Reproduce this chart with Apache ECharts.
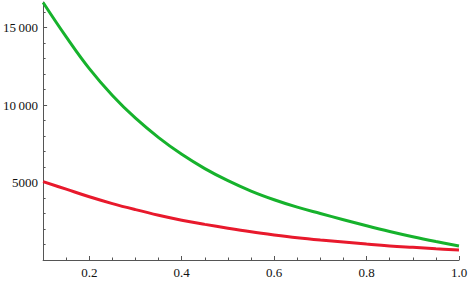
<!DOCTYPE html>
<html><head><meta charset="utf-8">
<script src="https://cdn.jsdelivr.net/npm/echarts@6/dist/echarts.min.js"></script>
<style>html,body{margin:0;padding:0;background:#fff}#c{width:474px;height:284px}</style>
</head><body><div id="c"></div>
<script>
const xValues = [0.1,0.15,0.2,0.25,0.3,0.35,0.4,0.45,0.5,0.55,0.6,0.65,0.7,0.75,0.8,0.85,0.9,0.95,1.0];
const greenValues = [16620,14400,12350,10620,9150,7900,6820,5900,5120,4450,3890,3410,3000,2600,2210,1840,1500,1190,900];
const redValues = [5060,4570,4080,3640,3250,2890,2570,2300,2050,1820,1620,1440,1290,1160,1030,910,815,725,646];
const xTickLabels = [0.2,0.4,0.6,0.8,1.0];
const xMinorTicks = [0.15,0.25,0.3,0.35,0.45,0.5,0.55,0.65,0.7,0.75,0.85,0.9,0.95];
const yTickLabels = [5000,10000,15000];
const yMinorTicks = [1000,2000,3000,4000,6000,7000,8000,9000,11000,12000,13000,14000,16000];

const axisColor = '#555';
const labelFont = 'Liberation Serif, DejaVu Serif, serif';
const fmtY = v => v >= 10000 ? Math.floor(v/1000) + '\u2009' + String(v%1000).padStart(3,'0') : String(v);

const chart = echarts.init(document.getElementById('c'), null, {renderer:'svg'});
chart.setOption({
  animation:false,
  backgroundColor:'#fff',
  textStyle:{fontFamily:labelFont},
  grid:{left:42, right:15, top:2, bottom:24},
  xAxis:[{
    type:'value', min:0.1, max:1.0,
    axisLine:{show:true, onZero:false, lineStyle:{color:axisColor, width:1}},
    axisTick:{show:true, inside:true, length:4, customValues:xTickLabels, lineStyle:{color:axisColor}},
    axisLabel:{show:true, customValues:xTickLabels, formatter:v=>v.toFixed(1), margin:6,
      textStyle:{fontFamily:labelFont}, fontFamily:labelFont, fontSize:13, color:'#111'},
    splitLine:{show:false}
  },{
    type:'value', min:0.1, max:1.0, position:'bottom',
    axisLine:{show:false},
    axisTick:{show:true, inside:true, length:2.5, customValues:xMinorTicks, lineStyle:{color:axisColor}},
    axisLabel:{show:false},
    splitLine:{show:false}
  }],
  yAxis:[{
    type:'value', min:0, max:16650,
    axisLine:{show:true, onZero:false, lineStyle:{color:axisColor, width:1}},
    axisTick:{show:true, inside:true, length:4, customValues:yTickLabels, lineStyle:{color:axisColor}},
    axisLabel:{show:true, customValues:yTickLabels, formatter:fmtY, margin:5,
      fontFamily:labelFont, fontSize:13, color:'#111'},
    splitLine:{show:false}
  },{
    type:'value', min:0, max:16650, position:'left',
    axisLine:{show:false},
    axisTick:{show:true, inside:true, length:2.5, customValues:yMinorTicks, lineStyle:{color:axisColor}},
    axisLabel:{show:false},
    splitLine:{show:false}
  }],
  series:[{
    type:'line', xAxisIndex:0, yAxisIndex:0, smooth:0.4, showSymbol:false,
    lineStyle:{color:'#16b22c', width:3}, itemStyle:{color:'#16b22c'},
    data: xValues.map((x,i)=>[x, greenValues[i]])
  },{
    type:'line', xAxisIndex:0, yAxisIndex:0, smooth:0.4, showSymbol:false,
    lineStyle:{color:'#e8192c', width:3}, itemStyle:{color:'#e8192c'},
    data: xValues.map((x,i)=>[x, redValues[i]])
  }]
});
</script></body></html>
